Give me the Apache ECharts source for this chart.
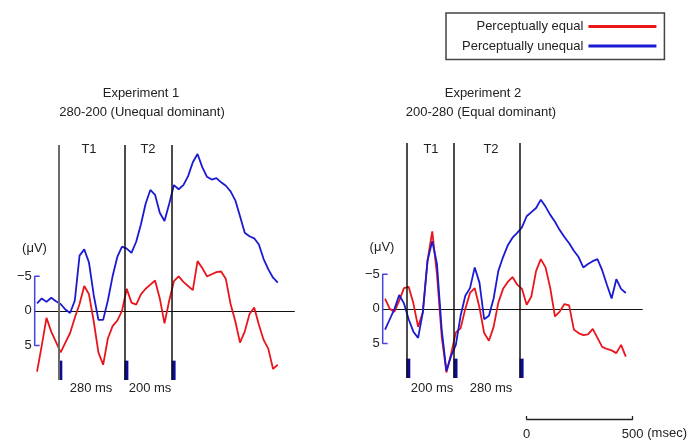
<!DOCTYPE html>
<html>
<head>
<meta charset="utf-8">
<script src="https://cdn.jsdelivr.net/npm/echarts@6/dist/echarts.min.js"></script>
<style>html,body{margin:0;padding:0;background:#fff}#c{width:688px;height:441px}</style>
</head>
<body>
<div id="c"></div>
<script>
// ---- data (times in ms relative to T1 onset, amplitudes in µV; negative is drawn upward) ----
const times = [-90,-70,-50,-30,-10,10,30,50,70,90,110,130,150,170,190,210,230,250,270,290,310,330,350,370,390,410,430,450,470,490,510,530,550,570,590,610,630,650,670,690,710,730,750,770,790,810,830,850,870,890,910,930];

const exp1Equal = [8.8,5.0,1.0,3.0,4.5,6.0,4.6,3.2,1.0,-1.0,-3.6,-2.4,1.5,6.0,7.8,4.0,2.2,1.4,0.0,-3.2,-1.2,-0.9,-2.4,-3.2,-3.8,-4.4,-1.8,1.8,-1.5,-4.3,-5.0,-4.2,-3.6,-3.0,-7.2,-6.2,-5.0,-5.3,-5.6,-5.7,-4.6,-1.0,1.5,4.6,3.0,0.5,-0.5,2.0,4.2,5.5,8.4,7.8];
const exp1Unequal = [-1.1,-1.8,-1.3,-1.9,-1.4,-1.0,-0.2,0.3,-1.5,-8.0,-8.9,-7.0,-2.3,1.3,1.3,-1.5,-5.0,-7.8,-9.3,-9.0,-8.4,-10.0,-12.5,-15.5,-17.5,-16.8,-14.2,-13.0,-15.5,-18.2,-17.6,-18.2,-19.5,-21.5,-22.7,-20.8,-19.4,-19.0,-19.2,-18.6,-18.1,-17.3,-16.0,-13.7,-11.3,-10.8,-10.5,-9.6,-7.5,-6.0,-4.8,-4.1];

const exp2Equal = [-1.5,0.0,0.4,-1.2,-3.0,-3.2,-0.8,2.6,0.5,-7.0,-11.2,-5.0,4.0,9.2,6.5,3.4,2.8,0.0,-2.3,-3.0,-0.2,3.5,4.6,2.6,-0.9,-2.9,-3.9,-4.6,-3.5,-2.9,-0.6,-1.8,-5.5,-7.2,-6.0,-3.0,1.1,0.4,-0.7,-0.5,3.0,3.5,3.8,3.7,2.9,4.2,5.5,5.8,6.0,6.4,5.2,6.9];
const exp2Unequal = [3.0,1.5,0.0,-2.0,-0.8,1.5,3.3,4.2,0.5,-7.0,-9.8,-6.5,3.0,9.0,6.8,5.2,1.0,-1.9,-3.0,-6.0,-3.8,1.5,1.0,-1.5,-5.5,-7.5,-9.2,-10.3,-11.0,-11.8,-13.4,-14.0,-14.6,-15.8,-14.8,-13.6,-12.6,-11.4,-10.4,-9.5,-8.4,-7.5,-6.0,-6.5,-6.9,-7.2,-5.6,-3.5,-1.5,-4.3,-2.9,-2.3];

const exp1Onsets = [0, 280, 480];
const exp2Onsets = [0, 200, 480];
const yTickValues = [-5, 0, 5];
const scaleBarTicks = [0, 500];
const seriesNames = ['Perceptually equal', 'Perceptually unequal'];
const panelTitles = [['Experiment 1', '280-200 (Unequal dominant)'], ['Experiment 2', '200-280 (Equal dominant)']];
const soaLabels = [['280 ms', '200 ms'], ['200 ms', '280 ms']];

// ---- styles ----
const RED = '#e8161c', BLUE = '#1a1ad2', TXT = '#222';
const FAMILY = '"Liberation Sans", Arial, sans-serif';
const FONT = '13px ' + FAMILY;
const MARK_W = 17; // onset marker width in ms

function pairs(xs, ys) { return xs.map((x, i) => [x, ys[i]]); }

function panel(idx, eq, uneq, onsets) {
  const out = [];
  out.push({
    name: seriesNames[0], type: 'line', xAxisIndex: idx, yAxisIndex: idx,
    data: pairs(times, eq), symbol: 'none',
    lineStyle: { color: RED, width: 1.8 }, itemStyle: { color: RED }, z: 3,
    markArea: {
      silent: true, itemStyle: { color: '#0b0b96' },
      data: onsets.map(o => [{ xAxis: o, yAxis: 7.2 }, { xAxis: o + MARK_W, yAxis: 10 }])
    }
  });
  out.push({
    name: seriesNames[1], type: 'line', xAxisIndex: idx, yAxisIndex: idx,
    data: pairs(times, uneq), symbol: 'none',
    lineStyle: { color: BLUE, width: 1.8 }, itemStyle: { color: BLUE }, z: 4,
    markLine: {
      silent: true, symbol: 'none', label: { show: false }, animation: false,
      data: onsets.map((o, i) => ({ xAxis: o, lineStyle: { color: (idx === 0 && i === 0) ? '#6a6a6a' : '#111', width: (idx === 0 && i === 0) ? 2 : 1.5, type: 'solid' } }))
    }
  });
  // y scale bracket (−5 … 5 µV)
  out.push({
    name: 'bracket' + idx, type: 'line', xAxisIndex: idx, yAxisIndex: idx,
    data: [[-79, yTickValues[0]], [-100, yTickValues[0]], [-100, yTickValues[2]], [-79, yTickValues[2]]],
    symbol: 'none', clip: false, silent: true,
    lineStyle: { color: '#4646dc', width: 1.5 }, z: 2
  });
  return out;
}

const grids = [
  { left: 34.7, top: 145, width: 259.6, height: 235 },
  { left: 382.7, top: 143, width: 259.6, height: 235 },
  { left: 526.7, top: 400, width: 109, height: 21.7 }
];

function xAx(gi) {
  return {
    type: 'value', gridIndex: gi, min: -100, max: 1000,
    axisLine: { show: true, onZero: true, lineStyle: { color: '#111', width: 1.2 } },
    axisTick: { show: false }, axisLabel: { show: false }, splitLine: { show: false }
  };
}
function yAx(gi) {
  return {
    type: 'value', gridIndex: gi, min: -24, max: 10, inverse: true,
    axisLine: { show: false }, axisTick: { show: false }, splitLine: { show: false },
    axisLabel: {
      customValues: yTickValues, margin: 3, color: TXT, fontSize: 13, fontFamily: FAMILY,
      formatter: v => (v < 0 ? '\u2212' + Math.abs(v) : String(v))
    }
  };
}

const graphics = [];
function txt(t, x, y) {
  graphics.push({ type: 'text', x: x, y: y, silent: true,
    style: { text: t, font: FONT, fill: TXT, align: 'center', verticalAlign: 'middle' } });
}
txt(panelTitles[0][0], 141, 93); txt(panelTitles[0][1], 142, 112.5);
txt(panelTitles[1][0], 483, 93); txt(panelTitles[1][1], 481, 112.5);
txt('T1', 89, 149); txt('T2', 148, 149);
txt('T1', 431, 149); txt('T2', 491, 149);
txt(soaLabels[0][0], 91, 388); txt(soaLabels[0][1], 150, 388);
txt(soaLabels[1][0], 432, 388); txt(soaLabels[1][1], 491, 388);
txt('(\u03bcV)', 34.5, 248); txt('(\u03bcV)', 382, 247);

const option = {
  animation: false,
  backgroundColor: '#fff',
  grid: grids,
  xAxis: [xAx(0), xAx(1), {
    type: 'value', gridIndex: 2, min: scaleBarTicks[0], max: scaleBarTicks[1], interval: 500,
    axisLine: { show: true, lineStyle: { color: '#222', width: 1.3 } },
    axisTick: { show: true, inside: true, length: 3, lineStyle: { color: '#222', width: 1.3 } },
    splitLine: { show: false },
    axisLabel: { margin: 9, color: TXT, fontSize: 13, fontFamily: FAMILY },
    name: '(msec)', nameLocation: 'end', nameGap: 10,
    nameTextStyle: { color: TXT, fontSize: 13, fontFamily: FAMILY, verticalAlign: 'top', padding: [8, 0, 0, 0] }
  }],
  yAxis: [yAx(0), yAx(1), { type: 'value', gridIndex: 2, show: false }],
  legend: {
    data: seriesNames, orient: 'vertical', left: 446, top: 13,
    align: 'right', icon: 'rect', itemWidth: 68, itemHeight: 3, itemGap: 6.5,
    padding: [7, 8, 7, 16], borderColor: '#444', borderWidth: 1.5, selectedMode: false,
    textStyle: { color: TXT, fontSize: 13, width: 122, fontFamily: FAMILY }
  },
  series: [].concat(panel(0, exp1Equal, exp1Unequal, exp1Onsets), panel(1, exp2Equal, exp2Unequal, exp2Onsets)),
  graphic: graphics
};

const chart = echarts.init(document.getElementById('c'), null, { renderer: 'canvas' });
chart.setOption(option);
</script>
</body>
</html>
